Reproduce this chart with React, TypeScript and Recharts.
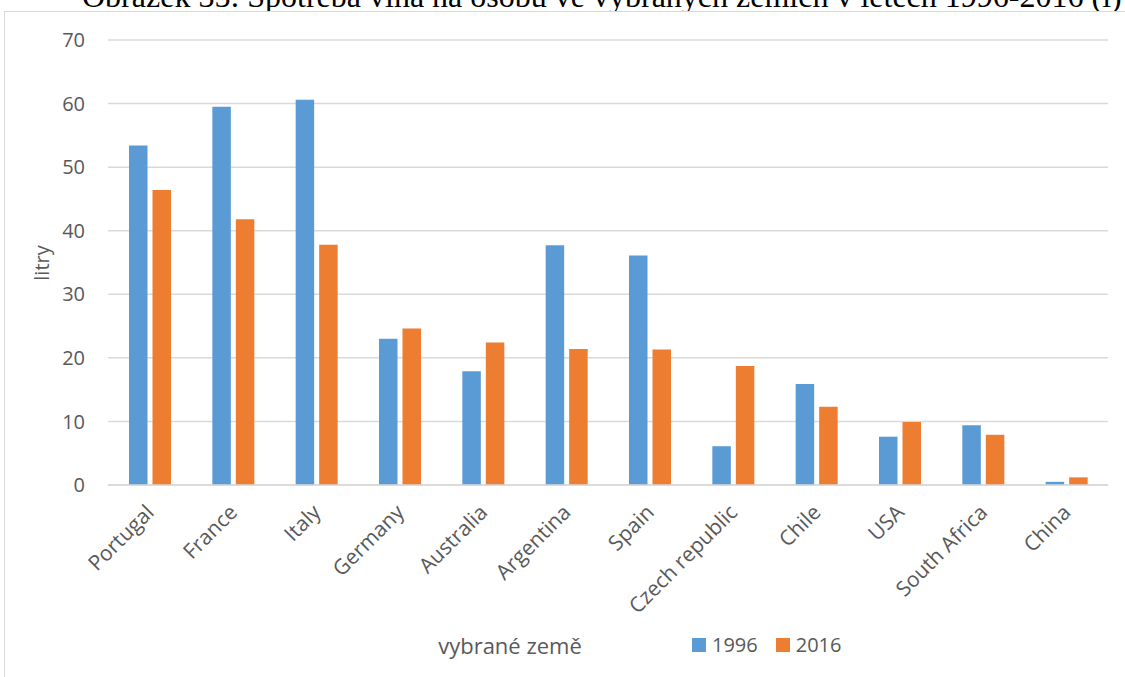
import { BarChart, Bar, XAxis, YAxis, CartesianGrid, Legend, Label } from 'recharts'

const countries = [
  'Portugal',
  'France',
  'Italy',
  'Germany',
  'Australia',
  'Argentina',
  'Spain',
  'Czech republic',
  'Chile',
  'USA',
  'South Africa',
  'China',
]
const litres1996 = [53.4, 59.5, 60.6, 23.0, 17.9, 37.7, 36.1, 6.1, 15.9, 7.6, 9.4, 0.5]
const litres2016 = [46.4, 41.8, 37.8, 24.6, 22.4, 21.4, 21.3, 18.7, 12.3, 9.9, 7.9, 1.2]
const yTicks = [0, 10, 20, 30, 40, 50, 60, 70]

const title = 'Obrázek 35: Spotřeba vína na osobu ve vybraných zemích v letech 1996-2016 (l)'

const data = countries.map((country, i) => ({
  country,
  y1996: litres1996[i],
  y2016: litres2016[i],
}))

const FONT = '"Open Sans", sans-serif'
const TEXT = '#595959'
const GRID = '#D9D9D9'

function CountryTick({ x, y, payload }: any) {
  return (
    <g transform={`translate(${x},${y + 15})`}>
      <text
        transform="rotate(-45)"
        textAnchor="end"
        dominantBaseline="central"
        fill={TEXT}
        fontSize={21}
        fontFamily={FONT}
      >
        {payload.value}
      </text>
    </g>
  )
}

function LegendBox({ payload }: any) {
  return (
    <div style={{ display: 'flex', alignItems: 'center', fontFamily: FONT, fontSize: 20, color: TEXT, lineHeight: '24px' }}>
      {(payload || []).map((p: any, i: number) => (
        <div key={p.value} style={{ display: 'flex', alignItems: 'center', marginLeft: i ? 18 : 0 }}>
          <span style={{ width: 14, height: 14, background: p.color, display: 'inline-block', marginRight: 6 }} />
          <span>{p.value}</span>
        </div>
      ))}
    </div>
  )
}

export default function App() {
  return (
    <div style={{ position: 'absolute', left: 0, top: 0, width: 1125, height: 677, overflow: 'hidden', background: '#fff' }}>
      <svg width={1125} height={12} style={{ position: 'absolute', left: 0, top: 0 }}>
        <text x={82} y={7} fontFamily='"Liberation Serif", serif' fontSize={32} fill="#000">
          {title}
        </text>
      </svg>
      <div
        style={{
          position: 'absolute',
          left: 4,
          top: 11,
          width: 1200,
          height: 700,
          border: `1.5px solid ${GRID}`,
        }}
      />
      <div style={{ position: 'absolute', left: 0, top: 0 }}>
        <BarChart
          width={1125}
          height={677}
          data={data}
          margin={{ top: 40, right: 17, left: 0, bottom: 0 }}
          barGap={5}
          barSize={18.5}
        >
          <CartesianGrid vertical={false} stroke={GRID} strokeWidth={1.5} />
          <XAxis
            dataKey="country"
            interval={0}
            height={192}
            tickLine={false}
            axisLine={{ stroke: GRID, strokeWidth: 1.5 }}
            tick={<CountryTick />}
          >
            <Label
              content={({ viewBox }: any) => (
                <text
                  x={viewBox.x + 402}
                  y={viewBox.y + 160}
                  textAnchor="middle"
                  dominantBaseline="central"
                  fill={TEXT}
                  fontSize={22}
                  fontFamily={FONT}
                >
                  vybrané země
                </text>
              )}
            />
          </XAxis>
          <YAxis
            width={108}
            domain={[0, 70]}
            ticks={yTicks}
            tickLine={false}
            axisLine={false}
            tickMargin={17}
            tick={{ fill: TEXT, fontSize: 20, fontFamily: FONT }}
          >
            <Label
              content={({ viewBox }: any) => (
                <text
                  x={viewBox.x + 41}
                  y={263}
                  transform={`rotate(-90, ${viewBox.x + 41}, 263)`}
                  textAnchor="middle"
                  dominantBaseline="central"
                  fill={TEXT}
                  fontSize={20}
                  fontFamily={FONT}
                >
                  litry
                </text>
              )}
            />
          </YAxis>
          <Legend
            layout="horizontal"
            verticalAlign="middle"
            align="center"
            content={<LegendBox />}
            wrapperStyle={{ left: 692, top: 633, width: 'auto' }}
          />
          <Bar dataKey="y1996" name="1996" fill="#5B9BD5" isAnimationActive={false} />
          <Bar dataKey="y2016" name="2016" fill="#ED7D31" isAnimationActive={false} />
        </BarChart>
      </div>
    </div>
  )
}
